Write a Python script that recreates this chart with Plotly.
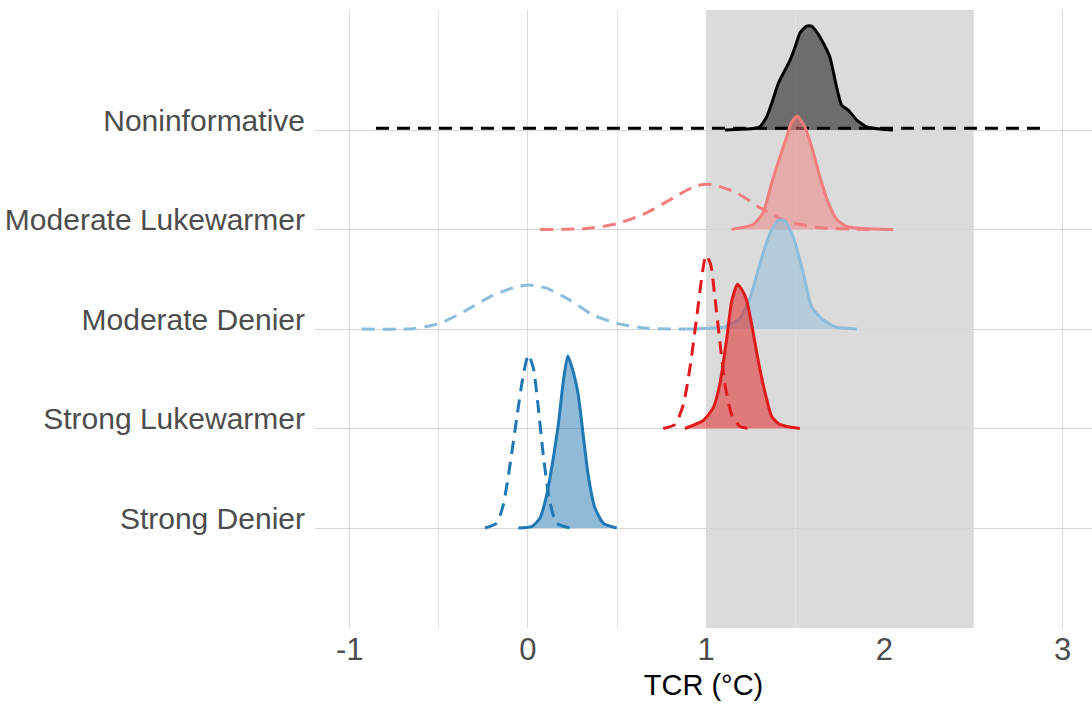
import plotly.graph_objects as go

# Categories (bottom to top)
categories = ["Strong Denier", "Strong Lukewarmer", "Moderate Denier",
              "Moderate Lukewarmer", "Noninformative"]

x_tick_vals = [-1, 0, 1, 2, 3]
x_tick_text = ["-1", "0", "1", "2", "3"]
x_minor_vals = [-0.5, 0.5, 1.5, 2.5]
shade_range = [1.0, 2.5]

# Noninformative
nonin_post_x = [1.105, 1.263, 1.302, 1.339, 1.368, 1.405, 1.442, 1.470, 1.498, 1.526, 1.564,
                1.592, 1.620, 1.657, 1.695, 1.732, 1.760, 1.797, 1.845, 1.901, 1.975, 2.048]
nonin_post_h = [0, 0.015, 0.033, 0.13, 0.27, 0.47, 0.60, 0.70, 0.83, 0.975, 1.045,
                1.045, 0.985, 0.875, 0.73, 0.43, 0.25, 0.20, 0.10, 0.03, 0.01, 0]
nonin_prior_x = [-0.853, 2.878]
nonin_prior_h = [0.017, 0.017]

# Moderate Lukewarmer
ml_post_x = [1.143, 1.264, 1.320, 1.368, 1.414, 1.452, 1.480, 1.511, 1.554, 1.592, 1.638,
             1.685, 1.733, 1.788, 1.882, 2.050]
ml_post_h = [0, 0.05, 0.17, 0.47, 0.73, 0.93, 1.08, 1.14, 1.03, 0.83, 0.53,
             0.27, 0.10, 0.03, 0.01, 0]
ml_prior_x = [0.067, 0.329, 0.498, 0.666, 0.816, 0.947, 1.031, 1.171, 1.302, 1.452, 1.639, 1.824, 1.95]
ml_prior_h = [0, 0.01, 0.057, 0.168, 0.319, 0.442, 0.452, 0.369, 0.218, 0.083, 0.017, 0.003, 0]

# Moderate Denier
md_post_x = [0.892, 0.965, 1.096, 1.190, 1.246, 1.302, 1.358, 1.405, 1.442, 1.489, 1.545,
             1.592, 1.657, 1.732, 1.845]
md_post_h = [0, 0.003, 0.017, 0.108, 0.31, 0.66, 0.96, 1.095, 1.085, 0.925, 0.56,
             0.22, 0.09, 0.017, 0]
md_prior_x = [-0.933, -0.644, -0.494, -0.344, -0.195, -0.063, 0.011, 0.105, 0.236, 0.366,
              0.498, 0.666, 0.89]
md_prior_h = [0, 0.003, 0.057, 0.19, 0.34, 0.425, 0.442, 0.41, 0.29, 0.14, 0.057, 0.007, 0]

# Strong Lukewarmer
sl_post_x = [0.881, 0.984, 1.040, 1.077, 1.115, 1.143, 1.175, 1.199, 1.227, 1.255, 1.283,
             1.320, 1.368, 1.405, 1.452, 1.526]
sl_post_h = [0, 0.08, 0.21, 0.45, 0.90, 1.28, 1.45, 1.40, 1.29, 1.05, 0.77,
             0.44, 0.12, 0.05, 0.02, 0]
sl_prior_x = [0.759, 0.825, 0.872, 0.909, 0.947, 0.980, 0.999, 1.025, 1.049, 1.077, 1.106,
              1.143, 1.190, 1.246]
sl_prior_h = [0, 0.04, 0.24, 0.61, 1.12, 1.58, 1.74, 1.65, 1.32, 0.87, 0.44, 0.14, 0.02, 0]

# Strong Denier
sd_post_x = [-0.054, 0.021, 0.067, 0.105, 0.142, 0.170, 0.198, 0.223, 0.254, 0.282, 0.310,
             0.338, 0.376, 0.423, 0.498]
sd_post_h = [0, 0.013, 0.097, 0.33, 0.70, 1.035, 1.47, 1.73, 1.57, 1.34, 0.935,
             0.53, 0.20, 0.047, 0]
sd_prior_x = [-0.241, -0.176, -0.139, -0.101, -0.063, -0.026, 0.002, 0.030, 0.058, 0.086,
              0.123, 0.161, 0.236]
sd_prior_h = [0, 0.047, 0.23, 0.63, 1.105, 1.54, 1.74, 1.61, 1.21, 0.73, 0.26, 0.047, 0]

rows = [
    ("Noninformative", nonin_post_x, nonin_post_h, nonin_prior_x, nonin_prior_h,
     "rgb(0,0,0)", "rgba(0,0,0,0.5)"),
    ("Moderate Lukewarmer", ml_post_x, ml_post_h, ml_prior_x, ml_prior_h,
     "rgb(242,125,125)", "rgba(242,125,125,0.5)"),
    ("Moderate Denier", md_post_x, md_post_h, md_prior_x, md_prior_h,
     "rgb(140,188,220)", "rgba(140,188,220,0.5)"),
    ("Strong Lukewarmer", sl_post_x, sl_post_h, sl_prior_x, sl_prior_h,
     "rgb(227,26,28)", "rgba(227,26,28,0.5)"),
    ("Strong Denier", sd_post_x, sd_post_h, sd_prior_x, sd_prior_h,
     "rgb(31,120,180)", "rgba(31,120,180,0.5)"),
]

fig = go.Figure()
for name, px, ph, qx, qh, lc, fc in rows:
    base = categories.index(name)
    fig.add_trace(go.Scatter(x=px, y=[base] * len(px), mode="lines",
                             line=dict(width=0, color=lc), showlegend=False,
                             hoverinfo="skip"))
    fig.add_trace(go.Scatter(x=px, y=[base + v for v in ph], mode="lines",
                             line=dict(color=lc, width=3, shape="spline", smoothing=0.5),
                             fill="tonexty", fillcolor=fc, showlegend=False, name=name))
    fig.add_trace(go.Scatter(x=qx, y=[base + v for v in qh], mode="lines",
                             line=dict(color=lc, width=3, dash="13px,8px",
                                       shape="spline", smoothing=0.6),
                             showlegend=False, name=name + " prior"))

fig.add_shape(type="rect", xref="x", yref="paper", x0=shade_range[0], x1=shade_range[1],
              y0=0, y1=1, fillcolor="rgba(0,0,0,0.14)", line=dict(width=0), layer="between")

fig.update_layout(
    width=1092, height=708,
    margin=dict(l=315, r=0, t=10, b=80),
    plot_bgcolor="white", paper_bgcolor="white",
    font=dict(family="Liberation Sans, Arial, sans-serif"),
    xaxis=dict(range=[-1.195, 3.165], tickvals=x_tick_vals, ticktext=x_tick_text,
               showgrid=True, gridcolor="#dadada", gridwidth=1, zeroline=False,
               showline=False, ticks="",
               tickfont=dict(family="Liberation Sans Narrow, Liberation Sans", size=31,
                             color="#4d4d4d"),
               minor=dict(tickvals=x_minor_vals, showgrid=True, gridcolor="#e3e3e3",
                          gridwidth=1, ticks=""),
               title=dict(text="TCR (°C)", standoff=8,
                          font=dict(family="Liberation Sans Narrow, Liberation Sans",
                                    size=29, color="black"))),
    yaxis=dict(range=[-1.005, 5.206], tickvals=list(range(len(categories))),
               ticktext=categories, showgrid=True, gridcolor="#d6d6d6", gridwidth=1,
               zeroline=False, showline=False, ticks="", ticklabelstandoff=9,
               ticklabelshift=-10,
               tickfont=dict(size=30, color="#4d4d4d")),
)

fig.write_html("out.html")
